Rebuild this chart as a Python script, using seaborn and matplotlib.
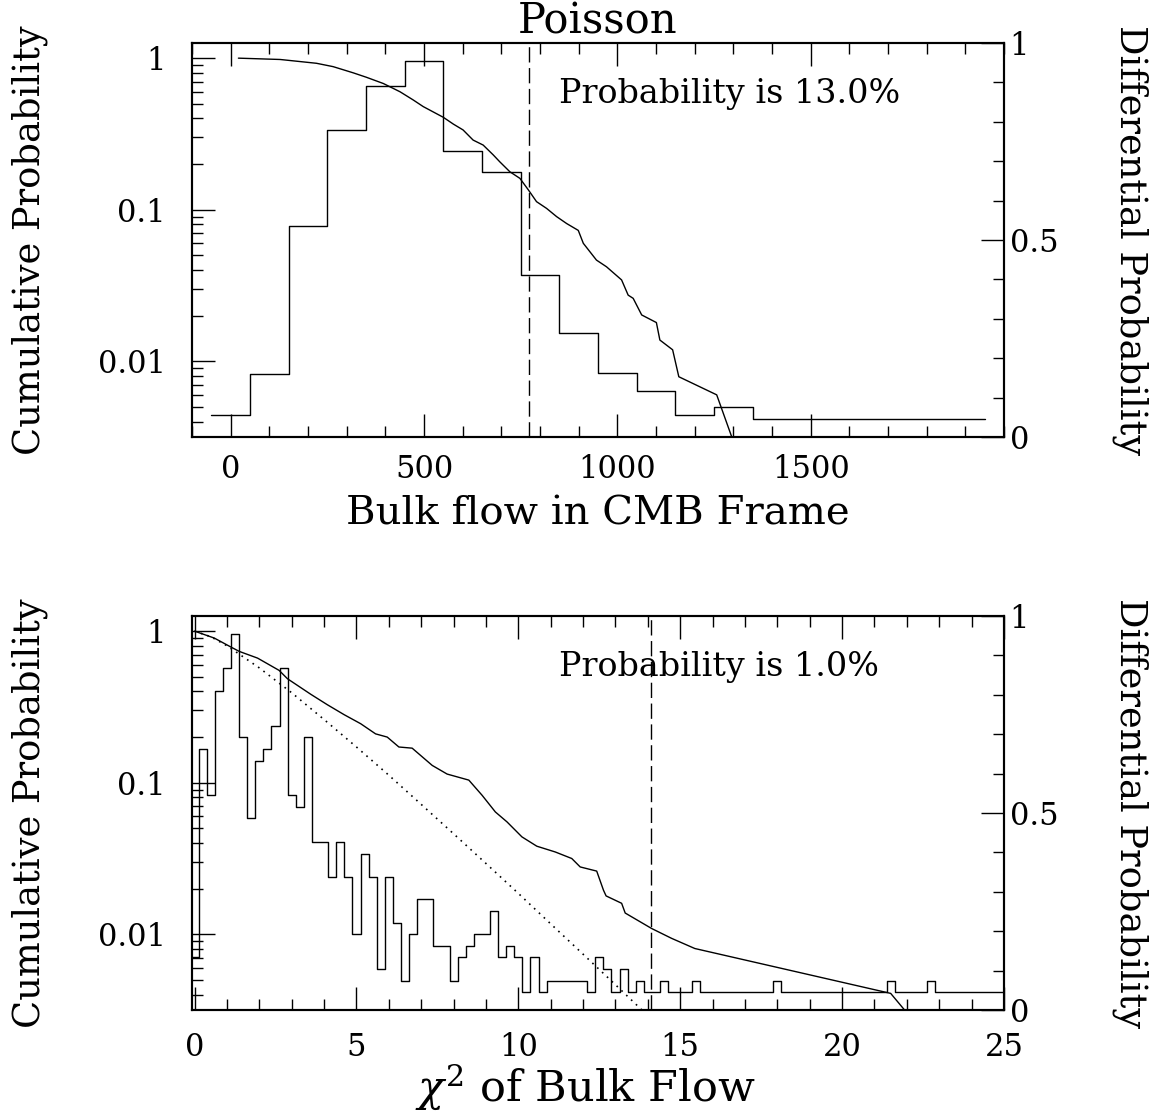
import numpy as np
import pandas as pd
import matplotlib
matplotlib.use("Agg")
import matplotlib.pyplot as plt
import seaborn as sns
from matplotlib.ticker import FixedLocator, FixedFormatter, LogLocator, NullFormatter, MultipleLocator

sns.set_style("white")
plt.rcParams["font.family"] = ["DejaVu Serif"]
plt.rcParams["mathtext.fontset"] = "dejavuserif"
for key in ("text.color", "axes.labelcolor", "xtick.color", "ytick.color"):
    plt.rcParams[key] = "black"

# ---------------- top panel: bulk flow amplitude ----------------
flow_centers = [0, 100, 200, 300, 400, 500, 600, 700, 800, 900,
                1000, 1100, 1200, 1300, 1400, 1500, 1600, 1700, 1800, 1900]
flow_diff = [0.056, 0.160, 0.536, 0.778, 0.892, 0.954, 0.725, 0.673, 0.411, 0.265,
             0.162, 0.118, 0.056, 0.077, 0.046, 0.046, 0.046, 0.046, 0.046, 0.046]
flow_cum_x = [20, 128, 222, 265, 317, 351, 395, 438, 472, 498, 550, 576, 601, 627,
              653, 679, 696, 722, 748, 770, 791, 817, 843, 869, 899, 912, 946, 972,
              1011, 1028, 1041, 1063, 1101, 1110, 1143, 1159, 1257, 1296, 1310]
flow_cum_y = [1.0, 0.98, 0.925, 0.879, 0.80, 0.748, 0.68, 0.60, 0.530, 0.479, 0.407,
              0.367, 0.336, 0.288, 0.267, 0.230, 0.207, 0.178, 0.161, 0.135, 0.113,
              0.102, 0.090, 0.081, 0.073, 0.060, 0.0465, 0.042, 0.0344, 0.0273, 0.026,
              0.0202, 0.0180, 0.0138, 0.0119, 0.0079, 0.0060, 0.00316, 0.0025]
flow_observed = 771
flow_note = "Probability is 13.0%"

# ---------------- bottom panel: chi-square of bulk flow ----------------
chi_diff = [0.134, 0.662, 0.545, 0.809, 0.868, 0.954, 0.692, 0.487, 0.633, 0.662,
            0.721, 0.868, 0.545, 0.515, 0.692, 0.427, 0.427, 0.338, 0.427, 0.338,
            0.192, 0.397, 0.338, 0.104, 0.338, 0.222, 0.074, 0.192, 0.281, 0.281,
            0.163, 0.163, 0.074, 0.134, 0.163, 0.192, 0.192, 0.251, 0.134, 0.163,
            0.134, 0.046, 0.134, 0.046, 0.074, 0.074, 0.074, 0.074, 0.074, 0.046,
            0.134, 0.104, 0.046, 0.104, 0.046, 0.074, 0.046, 0.046, 0.074, 0.046,
            0.046, 0.046, 0.074, 0.046, 0.046, 0.046, 0.046, 0.046, 0.046, 0.046,
            0.046, 0.046, 0.074, 0.046, 0.046, 0.046, 0.046, 0.046, 0.046, 0.046,
            0.046, 0.046, 0.046, 0.046, 0.046, 0.046, 0.074, 0.046, 0.046, 0.046,
            0.046, 0.074, 0.046, 0.046, 0.046, 0.046, 0.046, 0.046, 0.046, 0.046,
            0.046]
chi_bin = 0.25
chi_centers = np.arange(len(chi_diff)) * chi_bin
chi_cum_x = [0.0, 0.61, 1.125, 1.38, 1.945, 2.61, 2.87, 3.59, 4.10, 4.62, 5.13, 5.59,
             5.95, 6.31, 6.72, 7.34, 7.80, 8.47, 8.88, 9.29, 9.65, 10.11, 10.57,
             11.14, 11.65, 11.91, 12.42, 12.63, 12.71, 13.19, 13.30, 14.12, 14.73,
             15.45, 21.5, 21.93, 22.1]
chi_cum_y = [1.0, 0.90, 0.785, 0.735, 0.664, 0.551, 0.485, 0.383, 0.327, 0.281, 0.245,
             0.210, 0.200, 0.172, 0.169, 0.130, 0.114, 0.104, 0.0826, 0.0641, 0.0551,
             0.0439, 0.0381, 0.0349, 0.0316, 0.0278, 0.0261, 0.0195, 0.0179, 0.0160,
             0.0138, 0.0109, 0.0094, 0.00805, 0.00407, 0.00316, 0.0029]
chi_model_x = [0, 0.5, 1, 2, 3, 4, 5, 6, 7, 8, 9, 10, 11, 12, 13, 14]
chi_model_y = [1.0, 0.919, 0.801, 0.572, 0.392, 0.261, 0.172, 0.112, 0.0719, 0.046,
               0.0293, 0.0186, 0.0117, 0.00738, 0.00464, 0.0029]
chi_observed = 14.09
chi_note = "Probability is 1.0%"

LOG_LIM = (10 ** -2.5, 10 ** 0.1)
TICK_FS = 22
YLABEL_FS = 26.5
NOTE_FS = 24
LW = 1.0

fig = plt.figure(figsize=(11.5, 11.14), dpi=100)
left, width, height = 192 / 1150, 812 / 1150, 394 / 1114
ax_top = fig.add_axes([left, 1 - 437 / 1114, width, height])
ax_bot = fig.add_axes([left, 1 - 1010 / 1114, width, height])


def draw_panel(ax, centers, diff, bin_w, cum_x, cum_y, xlim, xmaj, xmin, xlabpad,
               observed, note, xlabel, xlabel_x, xlabel_fs):
    ax.set_yscale("log")
    sns.lineplot(x=cum_x, y=cum_y, ax=ax, color="black", lw=LW,
                 estimator=None, sort=False)
    ax.axvline(observed, color="black", lw=LW, ls=(0, (11, 4)))
    ax.set_xlim(*xlim)
    ax.set_ylim(*LOG_LIM)

    ax.xaxis.set_major_locator(FixedLocator(xmaj))
    ax.xaxis.set_major_formatter(FixedFormatter([f"{v:g}" for v in xmaj]))
    ax.xaxis.set_minor_locator(MultipleLocator(xmin))
    ax.yaxis.set_major_locator(FixedLocator([0.01, 0.1, 1]))
    ax.yaxis.set_major_formatter(FixedFormatter(["0.01", "0.1", "1"]))
    ax.yaxis.set_minor_locator(LogLocator(base=10, subs=np.arange(2, 10)))
    ax.yaxis.set_minor_formatter(NullFormatter())
    ax.tick_params(axis="x", which="both", direction="in", top=True, bottom=True,
                   labelsize=TICK_FS, pad=xlabpad, width=1.0)
    ax.tick_params(axis="y", which="both", direction="in", left=True, right=False,
                   labelsize=TICK_FS, pad=19, width=1.0)
    ax.tick_params(which="major", length=16.5)
    ax.tick_params(which="minor", length=8)
    for s in ax.spines.values():
        s.set_linewidth(1.5)
        s.set_color("black")

    ax2 = ax.twinx()
    centers_f = [float(c) for c in centers]
    edges = [c - bin_w / 2 for c in centers_f] + [centers_f[-1] + bin_w / 2]
    hist_df = pd.DataFrame({"x": centers_f, "w": diff})
    sns.histplot(data=hist_df, x="x", weights="w", bins=edges, element="step",
                 fill=False, color="black", lw=LW, ax=ax2)
    ax2.set_xlim(*xlim)
    ax2.set_ylim(0, 1)
    ax2.yaxis.set_major_locator(FixedLocator([0, 0.5, 1]))
    ax2.yaxis.set_major_formatter(FixedFormatter(["0", "0.5", "1"]))
    ax2.yaxis.set_minor_locator(MultipleLocator(0.1))
    ax2.tick_params(axis="y", which="both", direction="in", left=False, right=True,
                    labelsize=TICK_FS, pad=4, width=1.0)
    ax2.tick_params(which="major", length=16.5)
    ax2.tick_params(which="minor", length=8)
    for s in ax2.spines.values():
        s.set_linewidth(1.5)
        s.set_color("black")

    ax.set_ylabel("Cumulative Probability", fontsize=YLABEL_FS)
    ax.yaxis.label.set_va("center")
    ax.yaxis.set_label_coords(-0.1995, 0.5)
    ax2.set_ylabel("Differential Probability", fontsize=YLABEL_FS, rotation=270)
    ax2.yaxis.label.set_va("center")
    ax2.yaxis.set_label_coords(1.155, 0.5)
    ax.set_xlabel(xlabel, fontsize=xlabel_fs)
    ax.xaxis.label.set_va("center")
    ax.xaxis.set_label_coords(xlabel_x, -0.195)
    ax.text(0.452, 0.87, note, transform=ax.transAxes, fontsize=NOTE_FS,
            ha="left", va="center")
    return ax2


draw_panel(ax_top, flow_centers, flow_diff, 100, flow_cum_x, flow_cum_y,
           (-100, 2000), [0, 500, 1000, 1500], 100, 12,
           flow_observed, flow_note, "Bulk flow in CMB Frame", 0.5, 29)
ax_top.set_title("Poisson", fontsize=30, pad=3)

sns.lineplot(x=chi_model_x, y=chi_model_y, ax=ax_bot, color="black", lw=1.2,
             ls=(0, (1, 3)), estimator=None, sort=False)
draw_panel(ax_bot, chi_centers, chi_diff, chi_bin, chi_cum_x, chi_cum_y,
           (-0.08, 25.0), [0, 5, 10, 15, 20, 25], 1, 16,
           chi_observed, chi_note, r"$\chi^2$ of Bulk Flow", 0.484, 31)

fig.savefig("out.png", dpi=100, facecolor="white")
